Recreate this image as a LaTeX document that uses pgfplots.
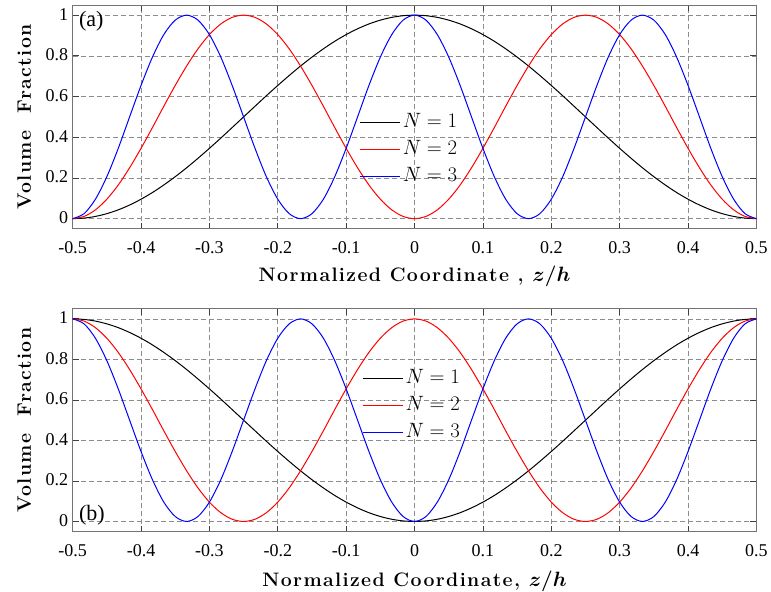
\documentclass[border=0pt]{standalone}
\usepackage{pgfplots}
\pgfplotsset{compat=1.18}
\usepackage{pgfplotstable}
\usepackage{fontspec}
\newfontfamily\timesf{Liberation Serif}
\newfontfamily\lmsp[LetterSpace=7]{Latin Modern Roman}

\pgfplotstableread{
z t1 t2 t3 b1 b2 b3
-0.5 0 0 0 1 1 1
-0.4833 0.0027 0.0109 0.0245 0.9973 0.9891 0.9755
-0.4667 0.0109 0.0432 0.0955 0.9891 0.9568 0.9045
-0.45 0.0245 0.0955 0.2061 0.9755 0.9045 0.7939
-0.4333 0.0432 0.1654 0.3455 0.9568 0.8346 0.6545
-0.4167 0.0670 0.25 0.5 0.9330 0.75 0.5
-0.4 0.0955 0.3455 0.6545 0.9045 0.6545 0.3455
-0.3833 0.1284 0.4477 0.7939 0.8716 0.5523 0.2061
-0.3667 0.1654 0.5523 0.9045 0.8346 0.4477 0.0955
-0.35 0.2061 0.6545 0.9755 0.7939 0.3455 0.0245
-0.3333 0.25 0.75 1 0.75 0.25 0
-0.3167 0.2966 0.8346 0.9755 0.7034 0.1654 0.0245
-0.3 0.3455 0.9045 0.9045 0.6545 0.0955 0.0955
-0.2833 0.3960 0.9568 0.7939 0.6040 0.0432 0.2061
-0.2667 0.4477 0.9891 0.6545 0.5523 0.0109 0.3455
-0.25 0.5 1 0.5 0.5 0 0.5
-0.2333 0.5523 0.9891 0.3455 0.4477 0.0109 0.6545
-0.2167 0.6040 0.9568 0.2061 0.3960 0.0432 0.7939
-0.2 0.6545 0.9045 0.0955 0.3455 0.0955 0.9045
-0.1833 0.7034 0.8346 0.0245 0.2966 0.1654 0.9755
-0.1667 0.75 0.75 0 0.25 0.25 1
-0.15 0.7939 0.6545 0.0245 0.2061 0.3455 0.9755
-0.1333 0.8346 0.5523 0.0955 0.1654 0.4477 0.9045
-0.1167 0.8716 0.4477 0.2061 0.1284 0.5523 0.7939
-0.1 0.9045 0.3455 0.3455 0.0955 0.6545 0.6545
-0.0833 0.9330 0.25 0.5 0.0670 0.75 0.5
-0.0667 0.9568 0.1654 0.6545 0.0432 0.8346 0.3455
-0.05 0.9755 0.0955 0.7939 0.0245 0.9045 0.2061
-0.0333 0.9891 0.0432 0.9045 0.0109 0.9568 0.0955
-0.0167 0.9973 0.0109 0.9755 0.0027 0.9891 0.0245
0 1 0 1 0 1 0
0.0167 0.9973 0.0109 0.9755 0.0027 0.9891 0.0245
0.0333 0.9891 0.0432 0.9045 0.0109 0.9568 0.0955
0.05 0.9755 0.0955 0.7939 0.0245 0.9045 0.2061
0.0667 0.9568 0.1654 0.6545 0.0432 0.8346 0.3455
0.0833 0.9330 0.25 0.5 0.0670 0.75 0.5
0.1 0.9045 0.3455 0.3455 0.0955 0.6545 0.6545
0.1167 0.8716 0.4477 0.2061 0.1284 0.5523 0.7939
0.1333 0.8346 0.5523 0.0955 0.1654 0.4477 0.9045
0.15 0.7939 0.6545 0.0245 0.2061 0.3455 0.9755
0.1667 0.75 0.75 0 0.25 0.25 1
0.1833 0.7034 0.8346 0.0245 0.2966 0.1654 0.9755
0.2 0.6545 0.9045 0.0955 0.3455 0.0955 0.9045
0.2167 0.6040 0.9568 0.2061 0.3960 0.0432 0.7939
0.2333 0.5523 0.9891 0.3455 0.4477 0.0109 0.6545
0.25 0.5 1 0.5 0.5 0 0.5
0.2667 0.4477 0.9891 0.6545 0.5523 0.0109 0.3455
0.2833 0.3960 0.9568 0.7939 0.6040 0.0432 0.2061
0.3 0.3455 0.9045 0.9045 0.6545 0.0955 0.0955
0.3167 0.2966 0.8346 0.9755 0.7034 0.1654 0.0245
0.3333 0.25 0.75 1 0.75 0.25 0
0.35 0.2061 0.6545 0.9755 0.7939 0.3455 0.0245
0.3667 0.1654 0.5523 0.9045 0.8346 0.4477 0.0955
0.3833 0.1284 0.4477 0.7939 0.8716 0.5523 0.2061
0.4 0.0955 0.3455 0.6545 0.9045 0.6545 0.3455
0.4167 0.0670 0.25 0.5 0.9330 0.75 0.5
0.4333 0.0432 0.1654 0.3455 0.9568 0.8346 0.6545
0.45 0.0245 0.0955 0.2061 0.9755 0.9045 0.7939
0.4667 0.0109 0.0432 0.0955 0.9891 0.9568 0.9045
0.4833 0.0027 0.0109 0.0245 0.9973 0.9891 0.9755
0.5 0 0 0 1 1 1
}\data

\pgfplotsset{
  panel/.style={
    scale only axis, width=684.3pt,
    xmin=-0.5, xmax=0.5, ymin=-0.05, ymax=1.05,
    xtick={-0.5,-0.4,-0.3,-0.2,-0.1,0,0.1,0.2,0.3,0.4,0.5},
    xticklabels={-0.5,-0.4,-0.3,-0.2,-0.1,0,0.1,0.2,0.3,0.4,0.5},
    ytick={0,0.2,0.4,0.6,0.8,1},
    yticklabels={0,0.2,0.4,0.6,0.8,1},
    tick align=inside, major tick length=6pt,
    grid=major,
    major grid style={dash pattern=on 5pt off 3pt, black!45, line width=0.7pt},
    axis line style={black!55, line width=0.9pt},
    every tick/.style={black!75, line width=0.8pt},
    tick label style={font=\timesf\fontsize{18}{21}\selectfont},
    xticklabel style={inner ysep=1pt, yshift=-12pt},
    yticklabel style={yshift=1pt, xshift=-1pt},
    label style={font=\lmsp\fontsize{19.5}{23}\selectfont\bfseries, inner sep=0pt},
    ylabel={Volume~~Fraction},
    ylabel style={at={(axis description cs:-0.071,0.5)}, anchor=center},
    legend style={draw=none, fill=none, inner sep=0pt,
      font=\fontsize{20}{24}\selectfont,
      nodes={inner ysep=0pt, inner xsep=2.5pt, text height=14pt, text depth=4pt},
      row sep=9pt},
    legend cell align=left,
  },
}

\begin{document}
\begin{tikzpicture}
\path (0pt,0pt) rectangle (771pt,588pt);
\begin{axis}[panel, at={(72.7pt,359pt)}, anchor=south west, height=224pt,
  xlabel={Normalized Coordinate , {\boldmath$z/h$}},
  xlabel style={at={(axis description cs:0.5,-0.21)}, anchor=center},
  legend style={at={(0.419,0.518)}, anchor=north west}]
\addlegendimage{legend image code/.code={\draw[black, line width=1pt] (0pt,0pt) -- (40pt,0pt);}}
\addlegendentry{$N=1$}
\addlegendimage{legend image code/.code={\draw[red, line width=1pt] (0pt,0pt) -- (40pt,0pt);}}
\addlegendentry{$N=2$}
\addlegendimage{legend image code/.code={\draw[blue, line width=1pt] (0pt,0pt) -- (40pt,0pt);}}
\addlegendentry{$N=3$}
\addplot[black, line width=1pt, smooth, forget plot] table[x=z,y=t1]{\data};
\addplot[red, line width=1pt, smooth, forget plot] table[x=z,y=t2]{\data};
\addplot[blue, line width=1pt, smooth, forget plot] table[x=z,y=t3]{\data};
\node[anchor=west, inner sep=0pt, font=\timesf\fontsize{22}{25}\selectfont] at (rel axis cs:0.009,0.929) {(a)};
\end{axis}
\begin{axis}[panel, at={(72.7pt,56pt)}, anchor=south west, height=223pt,
  xlabel={Normalized Coordinate, {\boldmath$z/h$}},
  xlabel style={at={(axis description cs:0.5,-0.222)}, anchor=center},
  legend style={at={(0.423,0.73)}, anchor=north west}]
\addlegendimage{legend image code/.code={\draw[black, line width=1pt] (0pt,0pt) -- (40pt,0pt);}}
\addlegendentry{$N=1$}
\addlegendimage{legend image code/.code={\draw[red, line width=1pt] (0pt,0pt) -- (40pt,0pt);}}
\addlegendentry{$N=2$}
\addlegendimage{legend image code/.code={\draw[blue, line width=1pt] (0pt,0pt) -- (40pt,0pt);}}
\addlegendentry{$N=3$}
\addplot[black, line width=1pt, smooth, forget plot] table[x=z,y=b1]{\data};
\addplot[red, line width=1pt, smooth, forget plot] table[x=z,y=b2]{\data};
\addplot[blue, line width=1pt, smooth, forget plot] table[x=z,y=b3]{\data};
\node[anchor=west, inner sep=0pt, font=\timesf\fontsize{22}{25}\selectfont] at (rel axis cs:0.009,0.072) {(b)};
\end{axis}
\end{tikzpicture}
\end{document}
